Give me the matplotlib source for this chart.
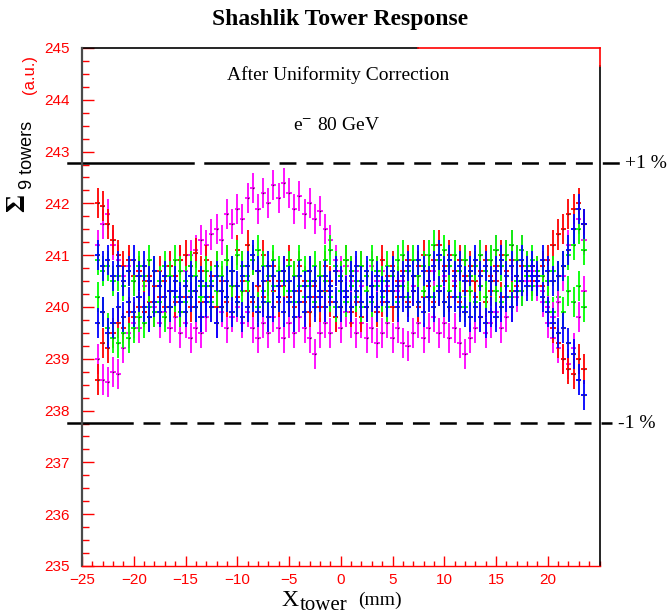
import matplotlib
matplotlib.use("Agg")
import matplotlib.pyplot as plt
from matplotlib.ticker import MultipleLocator

plt.rcParams['lines.scale_dashes'] = False
plt.rcParams['mathtext.fontset'] = 'stix'

# bin centres of the scan (mm)
x_tower = [-23.5, -23.0, -22.5, -22.0, -21.5, -21.0, -20.5, -20.0, -19.5, -19.0,
           -18.5, -18.0, -17.5, -17.0, -16.5, -16.0, -15.5, -15.0, -14.5, -14.0,
           -13.5, -13.0, -12.5, -12.0, -11.5, -11.0, -10.5, -10.0, -9.5, -9.0,
           -8.5, -8.0, -7.5, -7.0, -6.5, -6.0, -5.5, -5.0, -4.5, -4.0,
           -3.5, -3.0, -2.5, -2.0, -1.5, -1.0, -0.5, 0.0, 0.5, 1.0,
           1.5, 2.0, 2.5, 3.0, 3.5, 4.0, 4.5, 5.0, 5.5, 6.0,
           6.5, 7.0, 7.5, 8.0, 8.5, 9.0, 9.5, 10.0, 10.5, 11.0,
           11.5, 12.0, 12.5, 13.0, 13.5, 14.0, 14.5, 15.0, 15.5, 16.0,
           16.5, 17.0, 17.5, 18.0, 18.5, 19.0, 19.5, 20.0, 20.5, 21.0,
           21.5, 22.0, 22.5, 23.0, 23.5]
x_ticks = [-25, -20, -15, -10, -5, 0, 5, 10, 15, 20]

red_a = [242.0, 241.95, 241.6, 241.3, 241.0, 240.8, 240.9, 240.6, 240.7, 240.5,
         240.6, 240.4, 240.7, 240.5, 240.8, 240.6, 240.9, 241.0, 240.8, 241.05,
         240.7, 240.9, 240.6, 240.8, 240.5, 240.9, 240.7, 241.1, 240.8, 241.2,
         240.9, 240.7, 241.0, 240.6, 240.8, 240.5, 240.7, 240.9, 240.6, 240.8,
         240.5, 240.7, 240.4, 240.6, 240.8, 240.5, 240.7, 240.6, 240.9, 240.7,
         240.5, 240.8, 240.6, 240.4, 240.7, 240.9, 240.6, 240.8, 240.5, 240.7,
         240.9, 240.6, 240.8, 241.0, 240.7, 240.9, 241.2, 240.8, 241.0, 240.7,
         240.9, 240.6, 240.8, 240.5, 240.7, 240.9, 240.6, 240.8, 241.0, 240.7,
         240.9, 240.6, 240.8, 240.7, 240.8, 240.7, 240.8, 240.9, 241.2, 241.4,
         241.5, 241.8, 241.9, 242.0, 241.6]
red_b = [238.6, 239.3, 239.2, 239.5, 239.7, 239.6, 239.9, 239.8, 240.0, 239.9,
         240.1, 239.9, 240.2, 240.0, 240.3, 240.1, 239.9, 240.2, 240.0, 240.3,
         240.1, 240.4, 240.2, 240.0, 240.3, 240.1, 240.4, 240.2, 240.5, 240.3,
         240.1, 240.4, 240.2, 240.5, 240.3, 240.1, 240.4, 240.2, 240.0, 240.3,
         240.1, 239.9, 240.2, 240.0, 240.3, 240.1, 239.8, 240.0, 240.2, 239.9,
         240.1, 239.8, 240.0, 240.2, 239.9, 240.1, 240.3, 240.0, 240.2, 240.4,
         240.1, 240.3, 240.0, 240.2, 240.4, 240.1, 240.3, 240.5, 240.2, 240.4,
         240.1, 240.3, 240.5, 240.2, 240.4, 240.1, 240.3, 240.5, 240.2, 240.4,
         240.3, 240.4, 240.5, 240.6, 240.5, 240.6, 240.4, 240.0, 239.6, 239.3,
         239.0, 238.8, 238.7, 239.0, 238.8]
green_a = [240.9, 240.7, 240.8, 240.5, 240.6, 240.4, 240.7, 240.5, 240.8, 240.6,
           240.9, 240.7, 240.5, 240.8, 240.6, 240.9, 240.7, 240.5, 240.8, 240.6,
           240.4, 240.7, 240.5, 240.8, 240.6, 240.9, 240.7, 241.0, 240.8, 240.6,
           240.9, 241.1, 240.8, 240.6, 240.9, 240.7, 240.5, 240.8, 240.6, 240.9,
           240.7, 240.5, 240.8, 240.6, 240.9, 241.1, 240.8, 240.6, 240.9, 240.7,
           240.5, 240.8, 240.6, 240.9, 240.7, 240.5, 240.8, 240.6, 240.9, 241.0,
           240.7, 240.9, 240.6, 240.8, 241.0, 241.2, 240.9, 241.1, 240.8, 241.0,
           240.7, 240.9, 240.6, 240.8, 241.0, 240.7, 240.9, 241.1, 240.8, 241.0,
           241.2, 240.9, 241.1, 240.8, 240.9, 240.7, 240.6, 240.5, 240.7, 240.6,
           240.8, 241.0, 241.2, 241.5, 241.1]
green_b = [240.2, 239.9, 239.6, 239.4, 239.3, 239.5, 239.4, 239.6, 239.8, 239.7,
           240.0, 239.9, 240.1, 239.8, 240.0, 240.2, 239.9, 240.1, 240.3, 240.0,
           240.2, 240.4, 240.1, 240.3, 240.0, 240.2, 240.4, 240.1, 240.3, 240.5,
           240.2, 240.0, 240.3, 240.1, 240.4, 240.2, 240.5, 240.3, 240.1, 240.4,
           240.2, 240.4, 240.1, 240.3, 240.5, 240.2, 240.0, 240.3, 240.1, 240.4,
           240.2, 240.0, 240.3, 240.1, 240.4, 240.2, 240.0, 240.3, 240.1, 240.4,
           240.2, 240.4, 240.1, 240.3, 240.5, 240.2, 240.4, 240.1, 240.3, 240.5,
           240.2, 240.0, 240.3, 240.1, 240.4, 240.2, 240.5, 240.3, 240.1, 240.4,
           240.2, 240.5, 240.3, 240.6, 240.4, 240.5, 240.3, 240.1, 239.9, 240.2,
           239.9, 240.3, 240.1, 240.4, 240.0]
blue_a = [241.0, 240.8, 240.9, 240.6, 240.8, 240.5, 240.7, 240.9, 240.6, 240.8,
          240.5, 240.7, 240.4, 240.6, 240.3, 240.5, 240.2, 240.4, 240.6, 240.3,
          240.5, 240.2, 240.4, 240.6, 240.3, 240.5, 240.7, 240.4, 240.6, 240.8,
          241.0, 240.7, 240.5, 240.8, 240.6, 240.4, 240.7, 240.5, 240.3, 240.6,
          240.4, 240.7, 240.5, 240.3, 240.6, 240.4, 240.7, 240.5, 240.3, 240.6,
          240.8, 240.5, 240.7, 240.4, 240.6, 240.3, 240.5, 240.7, 240.4, 240.6,
          240.8, 240.6, 240.9, 240.7, 240.5, 240.8, 241.0, 240.7, 240.9, 240.6,
          240.8, 240.5, 240.7, 240.9, 240.6, 240.8, 240.5, 240.7, 240.9, 240.6,
          240.8, 240.6, 240.9, 240.7, 240.8, 240.6, 240.9, 240.7, 240.5, 240.6,
          240.8, 241.1, 241.5, 241.9, 241.6]
blue_b = [239.7, 239.9, 239.5, 239.7, 240.0, 239.8, 240.1, 239.9, 240.2, 240.0,
          239.8, 240.1, 239.9, 240.2, 240.0, 240.3, 240.1, 239.9, 240.2, 240.0,
          239.8, 240.1, 240.0, 239.7, 240.0, 240.2, 239.9, 240.1, 239.8, 240.0,
          240.2, 239.9, 240.1, 239.8, 240.0, 240.2, 239.9, 240.1, 239.8, 240.1,
          239.9, 240.2, 240.0, 240.2, 240.0, 240.3, 240.1, 240.0, 240.2, 240.0,
          240.3, 240.1, 240.0, 240.2, 240.0, 240.3, 240.1, 240.3, 240.0, 240.2,
          240.0, 240.3, 240.1, 239.9, 240.2, 240.0, 240.3, 240.1, 240.0, 240.2,
          240.0, 239.9, 239.8, 240.0, 239.8, 239.7, 239.9, 239.8, 240.0, 240.2,
          240.0, 240.3, 240.5, 240.4, 240.6, 240.5, 240.2, 239.9, 239.7, 239.5,
          239.6, 239.3, 239.1, 238.6, 238.3]
magenta_a = [241.2, 241.6, 241.8, 241.2, 240.9, 240.6, 240.8, 240.5, 240.7, 240.4,
             240.5, 240.7, 240.4, 240.6, 240.8, 240.6, 240.9, 240.7, 241.0, 241.1,
             241.3, 241.2, 241.4, 241.5, 241.3, 241.8, 241.6, 241.9, 241.7, 242.1,
             242.3, 241.9, 242.2, 242.0, 242.35, 242.1, 242.4, 242.2, 241.9, 242.15,
             241.8, 242.0, 241.7, 241.85, 241.5, 241.3, 240.9, 240.7, 240.8, 240.5,
             240.7, 240.4, 240.6, 240.8, 240.5, 240.7, 240.4, 240.6, 240.3, 240.5,
             240.7, 240.4, 240.6, 240.8, 240.5, 240.7, 240.9, 240.6, 240.8, 240.5,
             240.7, 240.9, 240.6, 240.8, 241.0, 240.7, 240.9, 241.1, 240.8, 241.0,
             241.2, 240.9, 241.1, 240.8, 240.7, 240.5, 240.3, 240.0, 239.8, 240.1,
             240.6, 241.2, 241.5, 241.7, 241.3]
magenta_b = [239.0, 238.6, 238.55, 238.75, 238.7, 239.2, 239.5, 239.7, 239.6, 239.9,
             239.8, 240.0, 239.7, 239.9, 239.6, 239.8, 239.5, 239.7, 239.4, 239.6,
             239.5, 239.8, 240.0, 239.7, 239.9, 239.6, 239.8, 240.0, 239.7, 239.9,
             239.6, 239.4, 239.7, 239.5, 239.8, 239.6, 239.4, 239.7, 239.5, 239.8,
             239.6, 239.4, 239.1, 239.5, 239.7, 239.5, 239.8, 239.6, 239.9, 239.7,
             239.5, 239.7, 239.4, 239.6, 239.3, 239.5, 239.7, 239.4, 239.6, 239.3,
             239.25, 239.5, 239.7, 239.4, 239.6, 239.8, 239.5, 239.7, 239.4, 239.6,
             239.3, 239.1, 239.4, 239.6, 239.8, 239.5, 239.7, 239.9, 239.6, 239.8,
             240.0, 240.2, 240.3, 240.5, 240.6, 240.4, 240.1, 239.7, 239.4, 239.2,
             239.0, 238.9, 239.2, 239.8, 240.3]

err_x = 0.25
err_y = 0.29
band_hi = 242.78   # +1 %
band_lo = 237.77   # -1 %

# drawing order: blue scans end up on top, like in the original
series = [(magenta_b, '#ff00ff'), (red_b, '#ff0000'), (green_b, '#00ff00'),
          (magenta_a, '#ff00ff'), (red_a, '#ff0000'), (green_a, '#00ff00'),
          (blue_b, '#0000ff'), (blue_a, '#0000ff')]

fig = plt.figure(figsize=(6.68, 6.14), dpi=100)
ax = fig.add_axes([82 / 668, 1 - 566 / 614, 517.5 / 668, 518 / 614])

for vals, col in series:
    ax.errorbar(x_tower, vals, yerr=err_y, xerr=err_x, fmt='none',
                ecolor=col, elinewidth=1.3, capsize=0)
    ax.plot(x_tower, vals, ls='none', marker='s', ms=1.0, mew=0, color='#333333')

ax.set_xlim(-25, 25)
ax.set_ylim(235, 245)

# axis frame, PAW style
for s in ['top', 'right']:
    ax.spines[s].set_visible(False)
ax.spines['left'].set_color('#4a4a4a')
ax.spines['left'].set_linewidth(1.6)
ax.spines['bottom'].set_color('#ff0000')
ax.spines['bottom'].set_linewidth(1.0)
ax.axhline(245, 0, 0.65, color='k', lw=1.2, clip_on=False)
ax.axhline(245, 0.65, 1, color='#ff0000', lw=1.2, clip_on=False)
ax.axvline(25, 0, 0.965, color='k', lw=1.2, clip_on=False)
ax.axvline(25, 0.965, 1, color='#ff0000', lw=1.2, clip_on=False)

ax.set_xticks(x_ticks)
ax.xaxis.set_minor_locator(MultipleLocator(1))
ax.yaxis.set_major_locator(MultipleLocator(1))
ax.yaxis.set_minor_locator(MultipleLocator(0.25))
ax.tick_params(axis='y', which='major', direction='in', length=8.6, width=1,
               color='#ff0000', labelcolor='#ff0000', pad=9, labelsize=11)
ax.tick_params(axis='y', which='minor', direction='in', length=5, width=1, color='#ff0000')
ax.tick_params(axis='x', which='major', direction='in', length=7, width=1,
               color='#ff0000', labelcolor='#ff0000', pad=5, labelsize=11)
ax.tick_params(axis='x', which='minor', direction='in', length=3.6, width=1, color='#ff0000')
for lab in ax.get_xticklabels() + ax.get_yticklabels():
    lab.set_fontfamily('Liberation Sans')

# +-1 % band lines
ax.plot([-26.35, -14.27], [band_hi, band_hi], color='k', lw=1.8, clip_on=False)
ax.plot([-13.11, -7.02], [band_hi, band_hi], color='k', lw=1.8, clip_on=False)
ax.plot([-5.96, 26.98], [band_hi, band_hi], color='k', lw=1.8, clip_on=False,
        linestyle=(0, (12.2, 7.2)))
ax.plot([-26.35, -20.16], [band_lo, band_lo], color='k', lw=1.8, clip_on=False)
ax.plot([-19.1, 26.2], [band_lo, band_lo], color='k', lw=1.8, clip_on=False,
        linestyle=(0, (12.2, 7.2)))

serif = 'Liberation Serif'
W, H = 668.0, 614.0
fig.text(340 / W, 1 - 19 / H, 'Shashlik Tower Response', ha='center', va='center',
         fontsize=17, fontweight='bold', family=serif)
fig.text(338 / W, 1 - 75 / H, 'After Uniformity Correction', ha='center', va='center',
         fontsize=14, family=serif)
fig.text(337 / W, 1 - 125 / H, r'e$^{-}$ 80 GeV', ha='center', va='center',
         fontsize=14, family=serif)
fig.text(625 / W, 1 - 163 / H, '+1 %', ha='left', va='center', fontsize=14, family=serif)
fig.text(618 / W, 1 - 423 / H, '-1 %', ha='left', va='center', fontsize=14, family=serif)

# y axis title
fig.text(18 / W, 1 - 203 / H, 'Σ', rotation=90, ha='center', va='center',
         fontsize=20, fontweight='bold', family=serif)
fig.text(28 / W, 1 - 155 / H, '9 towers', rotation=90, ha='center', va='center',
         fontsize=13, family='Liberation Sans')
fig.text(30 / W, 1 - 74 / H, '(a.u.)', rotation=90, ha='center', va='center',
         fontsize=12, color='#ff0000', family='Liberation Sans')

# x axis title
fig.text(290 / W, 1 - 601 / H, 'X', ha='center', va='center', fontsize=17, family=serif)
fig.text(300 / W, 1 - 605 / H, 'tower', ha='left', va='center', fontsize=15, family=serif)
fig.text(358 / W, 1 - 600 / H, '(mm)', ha='left', va='center', fontsize=14, family=serif)

fig.savefig('out.png', dpi=100)
